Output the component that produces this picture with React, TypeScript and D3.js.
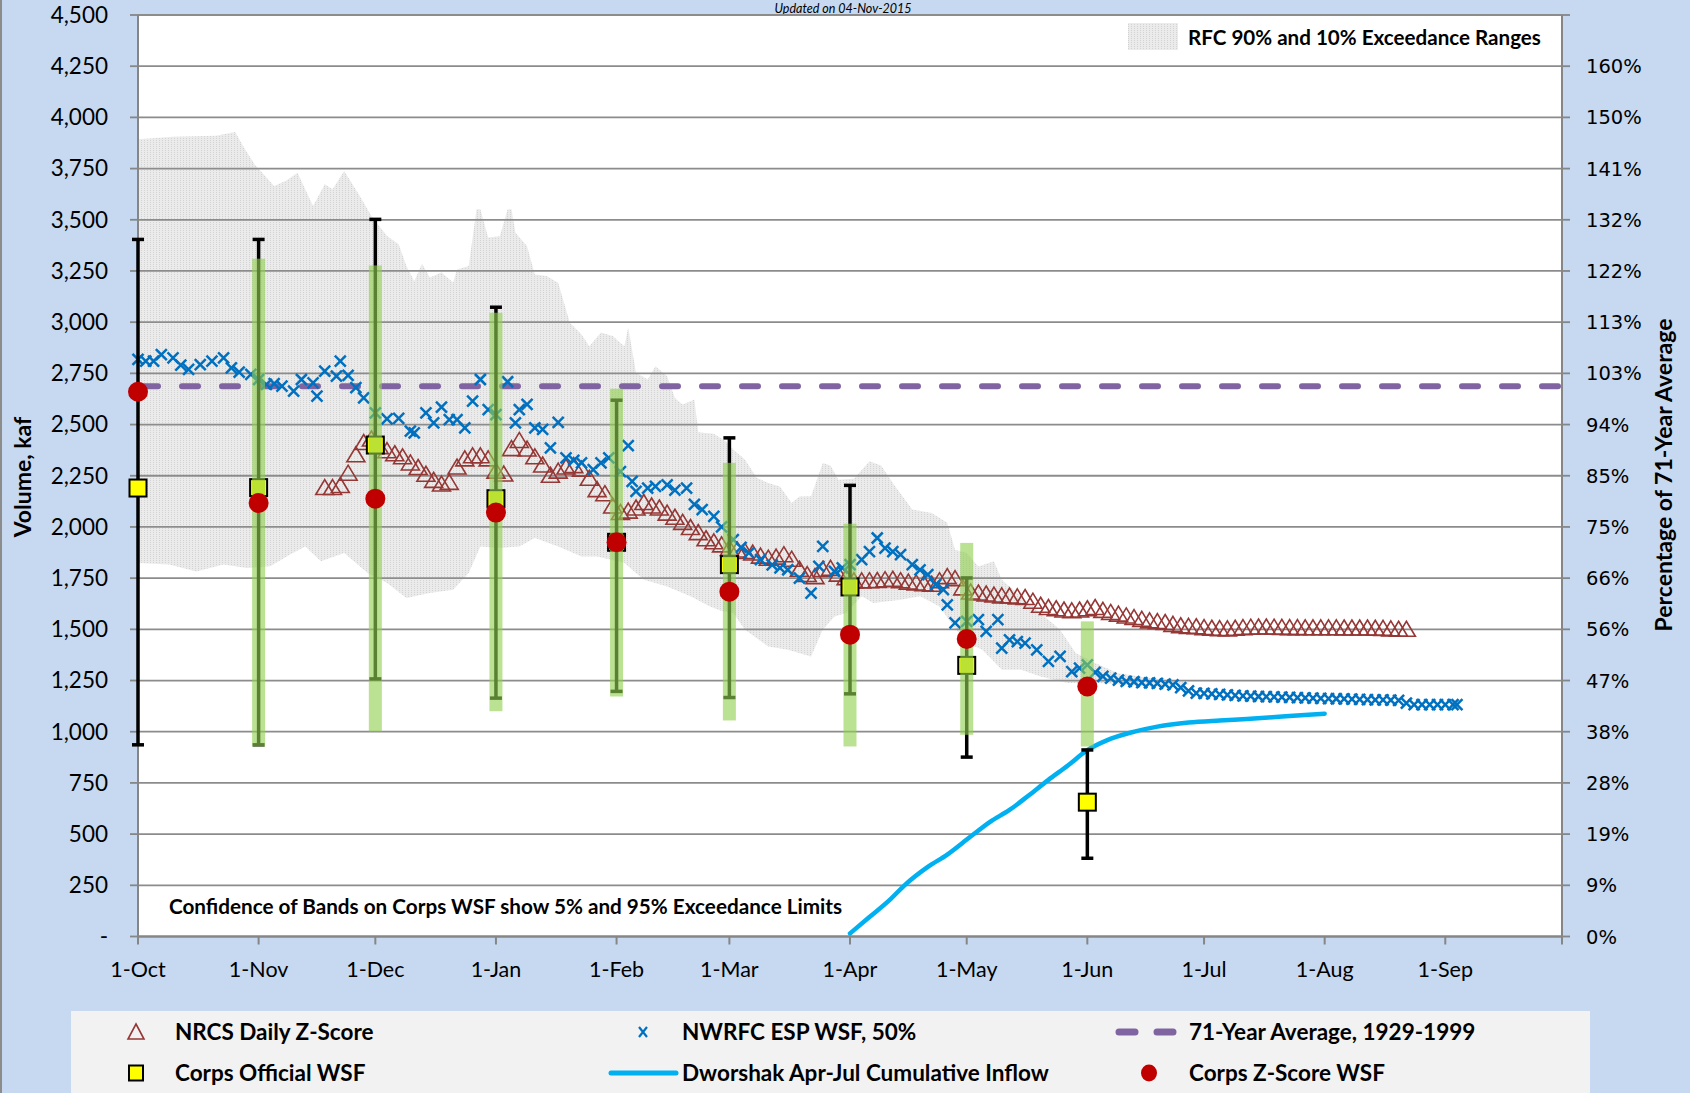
import React, { useEffect, useRef } from "react";
import * as d3 from "d3";

// Dworshak water supply forecast, WY2016. Days are counted from 1-Oct-2015.
const W = 1690;
const H = 1093;
const START = Date.UTC(2015, 9, 1);
const END = Date.UTC(2016, 9, 1);
const dayToDate = (d: number) => new Date(START + d * 864e5);

// RFC 90% and 10% exceedance envelope [day, kaf]
const rfcUpper: [number, number][] = [
  [0, 3893], [9, 3905], [20, 3910], [25, 3929], [27, 3860], [30, 3770], [35, 3665], [38, 3690],
  [41, 3730], [45, 3567], [48, 3673], [50, 3649], [53, 3738], [57, 3616], [60, 3518], [64, 3421],
  [67, 3380], [69, 3274], [71, 3200], [73, 3285], [75, 3218], [78, 3243], [81, 3194], [82, 3257],
  [85, 3274], [87, 3551], [88, 3551], [90, 3414], [93, 3420], [95, 3551], [96, 3551], [97, 3438],
  [100, 3371], [102, 3233], [105, 3225], [108, 3193], [111, 2997], [114, 2940], [116, 2883],
  [119, 2949], [122, 2932], [125, 2883], [126, 2974], [128, 2753], [131, 2720], [133, 2785],
  [136, 2736], [138, 2630], [140, 2598], [143, 2622], [144, 2462], [148, 2455], [151, 2418],
  [153, 2378], [156, 2329], [159, 2240], [162, 2215], [165, 2198], [168, 2117], [170, 2149],
  [173, 2150], [176, 2312], [178, 2300], [180, 2230], [184, 2235], [188, 2321], [191, 2300],
  [194, 2215], [199, 2085], [204, 2068], [208, 2020], [210, 1889], [213, 1873], [216, 1807],
  [220, 1832], [222, 1742], [227, 1661], [233, 1563], [237, 1498], [241, 1384], [246, 1335],
  [252, 1286], [260, 1262], [270, 1240],
];
const rfcLower: [number, number][] = [
  [0, 1824], [8, 1816], [15, 1783], [22, 1816], [28, 1799], [34, 1808], [39, 1864], [43, 1905],
  [47, 1832], [53, 1873], [59, 1775], [64, 1726], [69, 1653], [75, 1677], [81, 1693], [85, 1775],
  [88, 1905], [93, 1897], [98, 1905], [102, 1946], [108, 1905], [114, 1856], [118, 1856],
  [125, 1824], [130, 1742], [136, 1709], [142, 1661], [147, 1612], [150, 1590], [153, 1580],
  [156, 1498], [162, 1416], [167, 1400], [173, 1367], [176, 1498], [179, 1563], [182, 1580],
  [186, 1661], [189, 1628], [196, 1645], [201, 1661], [206, 1612], [209, 1531], [213, 1433],
  [217, 1400], [222, 1303], [227, 1303], [232, 1270], [239, 1238], [247, 1238], [260, 1221],
  [270, 1230],
];

// NRCS daily z-score forecast, every 2nd day from day 48 (kaf)
const nrcsStartDay = 48;
const nrcsValues = [
  2190, 2190, 2200, 2260, 2350, 2410, 2427, 2390, 2370, 2355, 2340, 2310, 2288, 2255, 2225, 2207,
  2215, 2290, 2330, 2345, 2345, 2330, 2270, 2256, 2380, 2420, 2378, 2340, 2300, 2250, 2270, 2290,
  2297, 2280, 2235, 2180, 2160, 2100, 2068, 2075, 2090, 2117, 2100, 2090, 2065, 2045, 2020, 1995,
  1970, 1940, 1925, 1910, 1893, 1885, 1878, 1870, 1855, 1845, 1850, 1862, 1840, 1791, 1765, 1755,
  1790, 1795, 1767, 1750, 1734, 1734, 1735, 1736, 1740, 1742, 1735, 1728, 1724, 1720, 1718, 1735,
  1755, 1745, 1700, 1680, 1675, 1670, 1665, 1661, 1660, 1656, 1653, 1635, 1615, 1604, 1598, 1592,
  1588, 1592, 1598, 1604, 1590, 1580, 1572, 1563, 1555, 1546, 1539, 1535, 1531, 1522, 1515, 1512,
  1510, 1506, 1503, 1501, 1500, 1503, 1506, 1508, 1509, 1509, 1508, 1507, 1506, 1506, 1505, 1505,
  1505, 1505, 1505, 1504, 1504, 1504, 1504, 1503, 1502, 1500, 1498, 1498,
];

// NWRFC ESP 50% forecast [day, kaf]
const nwrfcEsp: [number, number][] = [
  [0, 2818], [2, 2810], [4, 2810], [6, 2842], [9, 2826], [11, 2790], [13, 2769], [16, 2793],
  [19, 2810], [22, 2826], [24, 2777], [26, 2756], [29, 2745], [31, 2720], [33, 2696], [35, 2700],
  [37, 2688], [40, 2663], [42, 2720], [45, 2704], [46, 2639], [48, 2761], [51, 2736], [52, 2810],
  [54, 2740], [56, 2680], [58, 2630], [61, 2557], [64, 2528], [67, 2530], [70, 2468], [71, 2459],
  [74, 2557], [76, 2508], [78, 2585], [80, 2524], [82, 2524], [84, 2484], [86, 2614], [88, 2720],
  [90, 2573], [92, 2549], [95, 2709], [97, 2508], [98, 2573], [100, 2598], [102, 2484],
  [104, 2476], [106, 2386], [108, 2511], [110, 2337], [112, 2325], [114, 2313], [117, 2280],
  [119, 2313], [121, 2337], [124, 2270], [126, 2397], [127, 2223], [128, 2174], [131, 2190],
  [133, 2198], [136, 2205], [138, 2180], [141, 2190], [143, 2110], [145, 2085], [148, 2052],
  [150, 2000], [153, 1938], [155, 1900], [157, 1873], [160, 1840], [163, 1815], [165, 1800],
  [167, 1791], [170, 1750], [173, 1677], [175, 1807], [176, 1905], [179, 1783], [181, 1800],
  [183, 1816], [186, 1840], [188, 1880], [190, 1946], [192, 1897], [194, 1880], [196, 1865],
  [199, 1816], [201, 1790], [203, 1767], [205, 1718], [207, 1694], [208, 1620], [210, 1531],
  [213, 1539], [216, 1547], [218, 1490], [221, 1547], [222, 1408], [224, 1449], [226, 1440],
  [228, 1433], [231, 1400], [234, 1343], [237, 1368], [240, 1294], [242, 1310], [244, 1327],
  [246, 1290], [248, 1270], [250, 1262], [252, 1252], [254, 1246], [256, 1244], [258, 1240],
  [260, 1238], [262, 1236], [264, 1232], [266, 1229], [268, 1215], [270, 1200], [272, 1189],
  [274, 1187], [276, 1185], [278, 1182], [280, 1180], [282, 1178], [284, 1175], [286, 1174],
  [288, 1172], [290, 1171], [292, 1170], [294, 1169], [296, 1168], [298, 1166], [300, 1165],
  [302, 1164], [304, 1163], [306, 1162], [308, 1161], [310, 1160], [312, 1159], [314, 1158],
  [316, 1157], [318, 1156], [320, 1155], [322, 1154], [324, 1153], [326, 1140], [328, 1132],
  [330, 1132], [332, 1132], [334, 1132], [336, 1132], [338, 1132], [339, 1132],
];

// Dworshak Apr-Jul cumulative inflow [day, kaf]
const dworshakInflow: [number, number][] = [
  [183, 15], [188, 95], [193, 175], [197, 250], [203, 340], [208, 400], [214, 488], [219, 560],
  [224, 618], [229, 690], [234, 765], [239, 835], [244, 910], [249, 958], [255, 995],
  [262, 1025], [270, 1045], [278, 1055], [285, 1062], [295, 1075], [305, 1088],
];

const AVG_71YR = 2687;

// Corps forecasts issued on the 1st of each month
const corpsDays = [0, 31, 61, 92, 123, 152, 183, 213, 244];
const corpsOfficial = [2190, 2192, 2400, 2138, 1925, 1816, 1707, 1324, 656];
const corpsOfficialHi = [3404, 3404, 3502, 3073, 2619, 2435, 2203, 1751, 911];
const corpsOfficialLo = [936, 936, 1258, 1164, 1197, 1167, 1185, 876, 382];
const corpsZScore = [2660, 2117, 2138, 2070, 1925, 1684, 1474, 1453, 1221];
const corpsZScoreHi = [null, 3310, 3277, 3046, 2675, 2313, 2016, 1922, 1539];
const corpsZScoreLo = [null, 928, 1001, 1100, 1172, 1055, 928, 985, 928];

const yTicks = d3.range(0, 4501, 250);
const pctLabels = ["0%", "9%", "19%", "28%", "38%", "47%", "56%", "66%", "75%", "85%", "94%",
  "103%", "113%", "122%", "132%", "141%", "150%", "160%"];

const FONT = "Lato, 'Open Sans', sans-serif";

export default function App() {
  const ref = useRef<SVGSVGElement>(null);

  useEffect(() => {
    const svg = d3.select(ref.current);
    svg.selectAll("*").remove();

    const left = 138, right = 1562, top = 15, bottom = 936.5;
    const x = d3.scaleUtc().domain([START, END]).range([left, right]);
    const y = d3.scaleLinear().domain([0, 4500]).range([bottom, top]);
    const xd = (d: number) => x(dayToDate(d));

    const nrcs: [number, number][] = nrcsValues.map((v, i) => [nrcsStartDay + 2 * i, v]);

    const defs = svg.append("defs");
    const pat = defs.append("pattern").attr("id", "rfc").attr("width", 3).attr("height", 2)
      .attr("patternUnits", "userSpaceOnUse");
    pat.append("rect").attr("width", 3).attr("height", 2).attr("fill", "#ebebeb");
    pat.append("rect").attr("width", 1).attr("height", 1).attr("fill", "#d3d3d3");

    // background + frame
    svg.append("rect").attr("width", W).attr("height", H).attr("fill", "#c6d9f1");
    svg.append("line").attr("x1", 1).attr("x2", 1).attr("y1", 0).attr("y2", H)
      .attr("stroke", "#8c8c8c").attr("stroke-width", 2);
    svg.append("rect").attr("x", 71).attr("y", 1011).attr("width", 1519).attr("height", 82)
      .attr("fill", "#f2f2f2");
    svg.append("rect").attr("x", left).attr("y", top).attr("width", right - left)
      .attr("height", bottom - top).attr("fill", "#fff");

    // title, squeezed into the strip above the plot
    svg.append("text").attr("x", 843).attr("y", 12.5).attr("text-anchor", "middle")
      .attr("font-family", FONT).attr("font-style", "italic").attr("font-size", 12.5)
      .text("Updated on 04-Nov-2015");

    const g = svg.append("g");

    // RFC envelope
    const envelope = rfcUpper.concat(rfcLower.slice().reverse());
    g.append("path")
      .attr("d", d3.line<[number, number]>().x((d) => xd(d[0])).y((d) => y(d[1]))(envelope) + "Z")
      .attr("fill", "url(#rfc)");

    // gridlines
    g.selectAll(".grid").data(yTicks.filter((v) => v > 0)).enter().append("line")
      .attr("x1", left).attr("x2", right).attr("y1", (d) => y(d)).attr("y2", (d) => y(d))
      .attr("stroke", "#8c8c8c").attr("stroke-width", 1.8);

    // axes
    const axisColor = "#868686";
    g.append("line").attr("x1", left).attr("x2", left).attr("y1", top).attr("y2", bottom)
      .attr("stroke", axisColor).attr("stroke-width", 2);
    g.append("line").attr("x1", right).attr("x2", right).attr("y1", top).attr("y2", bottom)
      .attr("stroke", axisColor).attr("stroke-width", 2);
    g.append("line").attr("x1", left).attr("x2", right).attr("y1", bottom).attr("y2", bottom)
      .attr("stroke", axisColor).attr("stroke-width", 2.5);
    yTicks.forEach((v) => {
      g.append("line").attr("x1", left - 8).attr("x2", left).attr("y1", y(v)).attr("y2", y(v))
        .attr("stroke", axisColor).attr("stroke-width", 1.8);
      g.append("line").attr("x1", right).attr("x2", right + 8).attr("y1", y(v)).attr("y2", y(v))
        .attr("stroke", axisColor).attr("stroke-width", 1.8);
      g.append("text").attr("x", 108).attr("y", y(v)).attr("dy", "0.35em")
        .attr("text-anchor", "end").attr("font-family", FONT).attr("font-size", 22.5)
        .text(v === 0 ? "-" : d3.format(",")(v));
    });
    pctLabels.forEach((lab, i) => {
      g.append("text").attr("x", 1586).attr("y", y(yTicks[i])).attr("dy", "0.36em")
        .attr("font-family", "'DejaVu Sans', Verdana, sans-serif").attr("font-size", 19.5)
        .text(lab);
    });
    const months = d3.utcMonth.range(new Date(START), new Date(END + 1));
    months.forEach((m, i) => {
      g.append("line").attr("x1", x(m)).attr("x2", x(m)).attr("y1", bottom).attr("y2", bottom + 8)
        .attr("stroke", axisColor).attr("stroke-width", 2);
      if (i < 12)
        g.append("text").attr("x", x(m)).attr("y", 977).attr("text-anchor", "middle")
          .attr("font-family", FONT).attr("font-size", 21.5).text(d3.utcFormat("%-d-%b")(m));
    });

    svg.append("text").attr("transform", "translate(31,477) rotate(-90)")
      .attr("text-anchor", "middle").attr("font-family", FONT).attr("font-weight", 700)
      .attr("font-size", 23).text("Volume, kaf");
    svg.append("text").attr("transform", "translate(1672,475) rotate(-90)")
      .attr("text-anchor", "middle").attr("font-family", FONT).attr("font-weight", 700)
      .attr("font-size", 23).text("Percentage of 71-Year Average");

    // 71-yr average
    g.append("line").attr("x1", left + 4).attr("x2", right).attr("y1", y(AVG_71YR)).attr("y2", y(AVG_71YR))
      .attr("stroke", "#8064a2").attr("stroke-width", 6).attr("stroke-linecap", "round")
      .attr("stroke-dasharray", "16 24");

    const tri = "M0,-8.5L9,6.5L-9,6.5Z";
    const cross = "M-5.5,-5.5L5.5,5.5M-5.5,5.5L5.5,-5.5";

    // NRCS triangles
    g.selectAll(".nrcs").data(nrcs).enter().append("path")
      .attr("d", tri).attr("transform", (d) => `translate(${xd(d[0])},${y(d[1])})`)
      .attr("fill", "none").attr("stroke", "#953735").attr("stroke-width", 1.6);

    // NWRFC ESP crosses
    g.selectAll(".esp").data(nwrfcEsp).enter().append("path")
      .attr("d", cross).attr("transform", (d) => `translate(${xd(d[0])},${y(d[1])})`)
      .attr("fill", "none").attr("stroke", "#0070c0").attr("stroke-width", 2.5);

    // Dworshak cumulative inflow
    g.append("path")
      .attr("d", d3.line<[number, number]>().x((d) => xd(d[0])).y((d) => y(d[1]))
        .curve(d3.curveMonotoneX)(dworshakInflow))
      .attr("fill", "none").attr("stroke", "#00b0f0").attr("stroke-width", 4.5)
      .attr("stroke-linecap", "round");

    // Corps official WSF error bars (black)
    corpsDays.forEach((d, i) => {
      const cx = xd(d);
      g.append("line").attr("x1", cx).attr("x2", cx).attr("y1", y(corpsOfficialHi[i]))
        .attr("y2", y(corpsOfficialLo[i])).attr("stroke", "#000").attr("stroke-width", 3.5);
      [corpsOfficialHi[i], corpsOfficialLo[i]].forEach((v) => {
        g.append("line").attr("x1", cx - 6).attr("x2", cx + 6).attr("y1", y(v)).attr("y2", y(v))
          .attr("stroke", "#000").attr("stroke-width", 3.5);
      });
    });
    // Corps official squares
    corpsDays.forEach((d, i) => {
      g.append("rect").attr("x", xd(d) - 8.5).attr("y", y(corpsOfficial[i]) - 8.5)
        .attr("width", 17).attr("height", 17).attr("fill", "#ffff00")
        .attr("stroke", "#000").attr("stroke-width", 2);
    });
    // Corps z-score confidence bars (translucent green)
    corpsDays.forEach((d, i) => {
      const hi = corpsZScoreHi[i], lo = corpsZScoreLo[i];
      if (hi == null || lo == null) return;
      g.append("rect").attr("x", xd(d) - 6.5).attr("y", y(hi)).attr("width", 13)
        .attr("height", y(lo) - y(hi)).attr("fill", "#92d050").attr("fill-opacity", 0.62);
    });
    // Corps z-score dots
    corpsDays.forEach((d, i) => {
      g.append("circle").attr("cx", xd(d)).attr("cy", y(corpsZScore[i])).attr("r", 10)
        .attr("fill", "#c00000");
    });

    // notes
    svg.append("text").attr("x", 169).attr("y", 914).attr("font-family", FONT)
      .attr("font-weight", 700).attr("font-size", 20.7)
      .text("Confidence of Bands on Corps WSF show 5% and 95% Exceedance Limits");
    svg.append("rect").attr("x", 1128).attr("y", 23).attr("width", 50).attr("height", 27)
      .attr("fill", "url(#rfc)");
    svg.append("text").attr("x", 1188).attr("y", 45).attr("font-family", FONT)
      .attr("font-weight", 700).attr("font-size", 20.6).text("RFC 90% and 10% Exceedance Ranges");

    // bottom legend
    const lg = svg.append("g").attr("font-family", FONT).attr("font-weight", 700).attr("font-size", 22.5);
    const row1 = 1032, row2 = 1073;
    lg.append("path").attr("d", "M0,-8L8,7L-8,7Z").attr("transform", `translate(136,${row1})`)
      .attr("fill", "none").attr("stroke", "#953735").attr("stroke-width", 1.6);
    lg.append("text").attr("x", 175).attr("y", row1 + 8).text("NRCS Daily Z-Score");
    lg.append("path").attr("d", "M-4,-5L4,5M-4,5L4,-5").attr("transform", `translate(643,${row1})`)
      .attr("stroke", "#0070c0").attr("stroke-width", 2.2);
    lg.append("text").attr("x", 682).attr("y", row1 + 8).text("NWRFC ESP WSF, 50%");
    lg.append("line").attr("x1", 1119).attr("x2", 1176).attr("y1", row1).attr("y2", row1)
      .attr("stroke", "#8064a2").attr("stroke-width", 7).attr("stroke-linecap", "round")
      .attr("stroke-dasharray", "16 22");
    lg.append("text").attr("x", 1189).attr("y", row1 + 8).text("71-Year Average, 1929-1999");
    lg.append("rect").attr("x", 129).attr("y", row2 - 7.5).attr("width", 14).attr("height", 15)
      .attr("fill", "#ffff00").attr("stroke", "#000").attr("stroke-width", 2);
    lg.append("text").attr("x", 175).attr("y", row2 + 8).text("Corps Official WSF");
    lg.append("line").attr("x1", 611).attr("x2", 676).attr("y1", row2).attr("y2", row2)
      .attr("stroke", "#00b0f0").attr("stroke-width", 5).attr("stroke-linecap", "round");
    lg.append("text").attr("x", 682).attr("y", row2 + 8).text("Dworshak Apr-Jul Cumulative Inflow");
    lg.append("ellipse").attr("cx", 1149).attr("cy", row2).attr("rx", 8).attr("ry", 8.5)
      .attr("fill", "#c00000");
    lg.append("text").attr("x", 1189).attr("y", row2 + 8).text("Corps Z-Score WSF");
  }, []);

  return (
    <div style={{ position: "absolute", left: 0, top: 0 }}>
      <svg ref={ref} width={W} height={H} style={{ display: "block" }} />
    </div>
  );
}
